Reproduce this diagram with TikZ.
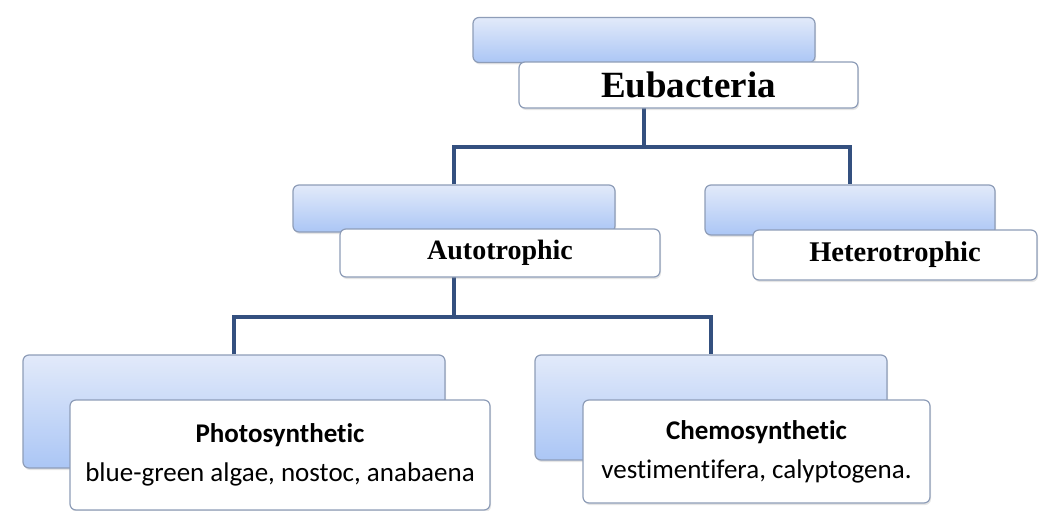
\documentclass[tikz,border=0pt]{standalone}
\usepackage{fontspec}
\setmainfont{Liberation Serif}
\newfontfamily\calibri[Ligatures={NoCommon}]{Carlito}
\usetikzlibrary{shadows}
\definecolor{boxline}{HTML}{8E9DB8}
\definecolor{linkblue}{HTML}{34507F}
\definecolor{topblue}{HTML}{E2EAFA}
\definecolor{botblue}{HTML}{ABC6F5}

\begin{document}
\begin{tikzpicture}[x=1pt,y=-1pt,
  backbox/.style={draw=boxline,line width=1.2pt,rounded corners=6pt,top color=topblue,bottom color=botblue,inner sep=0pt,
    drop shadow={opacity=0.2,shadow xshift=1pt,shadow yshift=-2pt}},
  frontbox/.style={draw=boxline,line width=1.2pt,rounded corners=6pt,fill=white,inner sep=0pt,align=center,
    drop shadow={opacity=0.2,shadow xshift=1pt,shadow yshift=-2pt}},
  link/.style={draw=linkblue,line width=3.5pt}]
\useasboundingbox[fill=white] (0,0) rectangle (1039,511);
% back boxes
\node[backbox,minimum width=342pt,minimum height=45pt] (eubB) at (644,40) {};
\node[backbox,minimum width=322pt,minimum height=47pt] (autoB) at (454,208.5) {};
\node[backbox,minimum width=290pt,minimum height=50pt] (hetB) at (850,210) {};
\node[backbox,minimum width=422pt,minimum height=113pt] (photoB) at (234,411.5) {};
\node[backbox,minimum width=352pt,minimum height=105pt] (chemB) at (711,407.5) {};
% connectors
\coordinate (split1) at (644,147);
\coordinate (split2) at (454,317);
\draw[link] (eubB.south) -- (split1);
\draw[link] (autoB.north) |- (split1) -| (hetB.north);
\draw[link] (autoB.south) -- (split2);
\draw[link] (photoB.north) |- (split2) -| (chemB.north);
% front boxes
\node[frontbox,minimum width=339pt,minimum height=46pt,font=\fontsize{37}{40}\selectfont\bfseries] (eubT) at (688.5,85) {Eubacteria};
\node[frontbox,minimum width=320pt,minimum height=48pt,font=\fontsize{28}{30}\selectfont\bfseries] (autoT) at (500,253) {Autotrophic};
\node[frontbox,minimum width=284pt,minimum height=50pt,font=\fontsize{28.5}{30}\selectfont\bfseries] (hetT) at (895,255) {Heterotrophic};
\node[frontbox,minimum width=420pt,minimum height=110pt,font=\calibri\fontsize{27}{31}\selectfont] (photoT) at (280,455)
  {\bfseries Photosynthetic\\[8pt] blue-green algae, nostoc, anabaena};
\node[frontbox,minimum width=347pt,minimum height=103pt,font=\calibri\fontsize{27}{31}\selectfont] (chemT) at (756.5,451.5)
  {\bfseries Chemosynthetic\\[8pt] vestimentifera, calyptogena.};
\end{tikzpicture}
\end{document}
